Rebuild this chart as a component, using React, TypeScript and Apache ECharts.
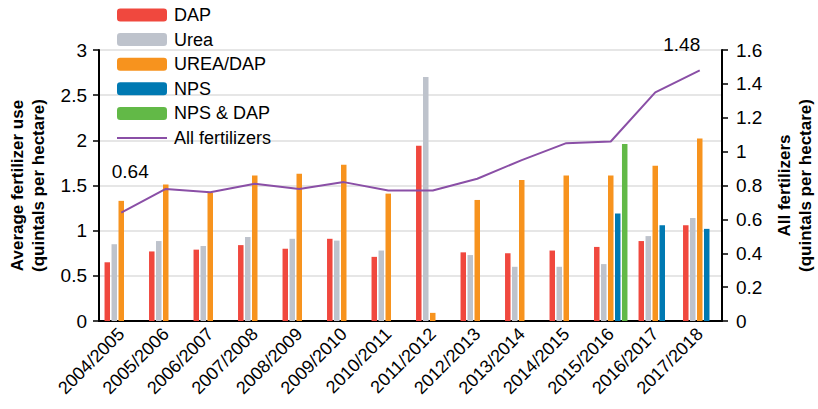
import React, { useEffect, useRef } from "react";
import * as echarts from "echarts";

const categories = [
  "2004/2005", "2005/2006", "2006/2007", "2007/2008", "2008/2009", "2009/2010", "2010/2011",
  "2011/2012", "2012/2013", "2013/2014", "2014/2015", "2015/2016", "2016/2017", "2017/2018",
];
const dap = [0.65, 0.77, 0.79, 0.84, 0.8, 0.91, 0.71, 1.94, 0.76, 0.75, 0.78, 0.82, 0.885, 1.06];
const urea = [0.85, 0.885, 0.83, 0.93, 0.91, 0.89, 0.78, 2.7, 0.73, 0.6, 0.6, 0.63, 0.94, 1.14];
const ureaDap = [1.33, 1.51, 1.42, 1.61, 1.63, 1.73, 1.41, 0.09, 1.34, 1.56, 1.61, 1.61, 1.72, 2.02];
const nps: (number | null)[] = [null, null, null, null, null, null, null, null, null, null, null, 1.19, 1.06, 1.02];
const npsDap: (number | null)[] = [null, null, null, null, null, null, null, null, null, null, null, 1.96, null, null];
const allFert = [0.64, 0.78, 0.76, 0.81, 0.78, 0.82, 0.77, 0.77, 0.84, 0.95, 1.05, 1.06, 1.35, 1.48];
const leftTicks = [0, 0.5, 1, 1.5, 2, 2.5, 3];
const rightTicks = [0, 0.2, 0.4, 0.6, 0.8, 1, 1.2, 1.4, 1.6];

const FONT = "'Liberation Sans', Arial, sans-serif";

export default function App() {
  const ref = useRef<HTMLDivElement>(null);
  useEffect(() => {
    if (!ref.current) return;
    const chart = echarts.init(ref.current, undefined, { renderer: "svg" });
    const barBase = {
      type: "bar" as const,
      barWidth: 5.5,
      barGap: "27%",
      yAxisIndex: 0,
    };
    const lineData = allFert.map((v, i) => {
      if (i === 0)
        return { value: v, label: { show: true, position: "top", offset: [9, -27] } };
      if (i === allFert.length - 1)
        return { value: v, label: { show: true, position: "top", offset: [-18, -11] } };
      return v;
    });
    chart.setOption({
      animation: false,
      textStyle: { fontFamily: FONT, color: "#000" },
      legend: {
        orient: "vertical",
        left: 116,
        top: 6,
        padding: 0,
        itemWidth: 50,
        itemHeight: 13,
        itemGap: 6.6,
        textStyle: { fontFamily: FONT, fontSize: 18, lineHeight: 18, color: "#000", padding: [0, 0, 0, 2] },
        data: [
          "DAP",
          "Urea",
          "UREA/DAP",
          "NPS",
          "NPS & DAP",
          { name: "All fertilizers", itemStyle: { opacity: 0 } },
        ],
      },
      grid: { left: 99, right: 96, top: 50, bottom: 88, outerBoundsMode: "none", containLabel: false },
      xAxis: {
        type: "category",
        data: categories,
        axisLine: { lineStyle: { color: "#000", width: 2 } },
        axisTick: { show: false },
        axisLabel: { rotate: 45, fontSize: 18, color: "#000", fontFamily: FONT, margin: 10, interval: 0 },
      },
      yAxis: [
        {
          type: "value",
          min: leftTicks[0],
          max: leftTicks[leftTicks.length - 1],
          interval: 0.5,
          name: "Average fertilizer use\n(quintals per hectare)",
          nameLocation: "middle",
          nameRotate: 90,
          nameGap: 50,
          nameTextStyle: { fontFamily: FONT, fontSize: 17, fontWeight: "bold", color: "#000", lineHeight: 21 },
          axisLine: { show: true, lineStyle: { color: "#000", width: 2 } },
          axisTick: { show: true, length: 6, lineStyle: { color: "#000", width: 1.5 } },
          axisLabel: { fontSize: 19, color: "#000", fontFamily: FONT, margin: 12 },
          splitLine: { show: true, lineStyle: { color: "#e6e6e6", width: 2 } },
        },
        {
          type: "value",
          min: rightTicks[0],
          max: rightTicks[rightTicks.length - 1],
          interval: 0.2,
          position: "right",
          name: "All fertilizers\n(quintals per hectare)",
          nameLocation: "middle",
          nameRotate: 90,
          nameGap: 52,
          nameTextStyle: { fontFamily: FONT, fontSize: 17, fontWeight: "bold", color: "#000", lineHeight: 21 },
          axisLine: { show: true, lineStyle: { color: "#000", width: 2 } },
          axisTick: { show: true, length: 6, lineStyle: { color: "#000", width: 1.5 } },
          axisLabel: { fontSize: 19, color: "#000", fontFamily: FONT, margin: 14 },
          splitLine: { show: false },
        },
      ],
      series: [
        { ...barBase, name: "DAP", data: dap, itemStyle: { color: "#f0483e" } },
        { ...barBase, name: "Urea", data: urea, itemStyle: { color: "#bec3cc" } },
        { ...barBase, name: "UREA/DAP", data: ureaDap, itemStyle: { color: "#f7931e" } },
        { ...barBase, name: "NPS", data: nps, itemStyle: { color: "#0079b2" } },
        { ...barBase, name: "NPS & DAP", data: npsDap, itemStyle: { color: "#62b947" } },
        {
          type: "line",
          name: "All fertilizers",
          yAxisIndex: 1,
          data: lineData,
          symbol: "circle",
          symbolSize: 0,
          showSymbol: true,
          lineStyle: { color: "#8a4fa6", width: 2 },
          itemStyle: { color: "#8a4fa6" },
          label: { fontSize: 19, color: "#000", fontFamily: FONT },
          z: 5,
        },
      ],
    });
    return () => chart.dispose();
  }, []);
  return (
    <div
      ref={ref}
      style={{ position: "absolute", left: 0, top: 0, width: 818, height: 409 }}
    />
  );
}
